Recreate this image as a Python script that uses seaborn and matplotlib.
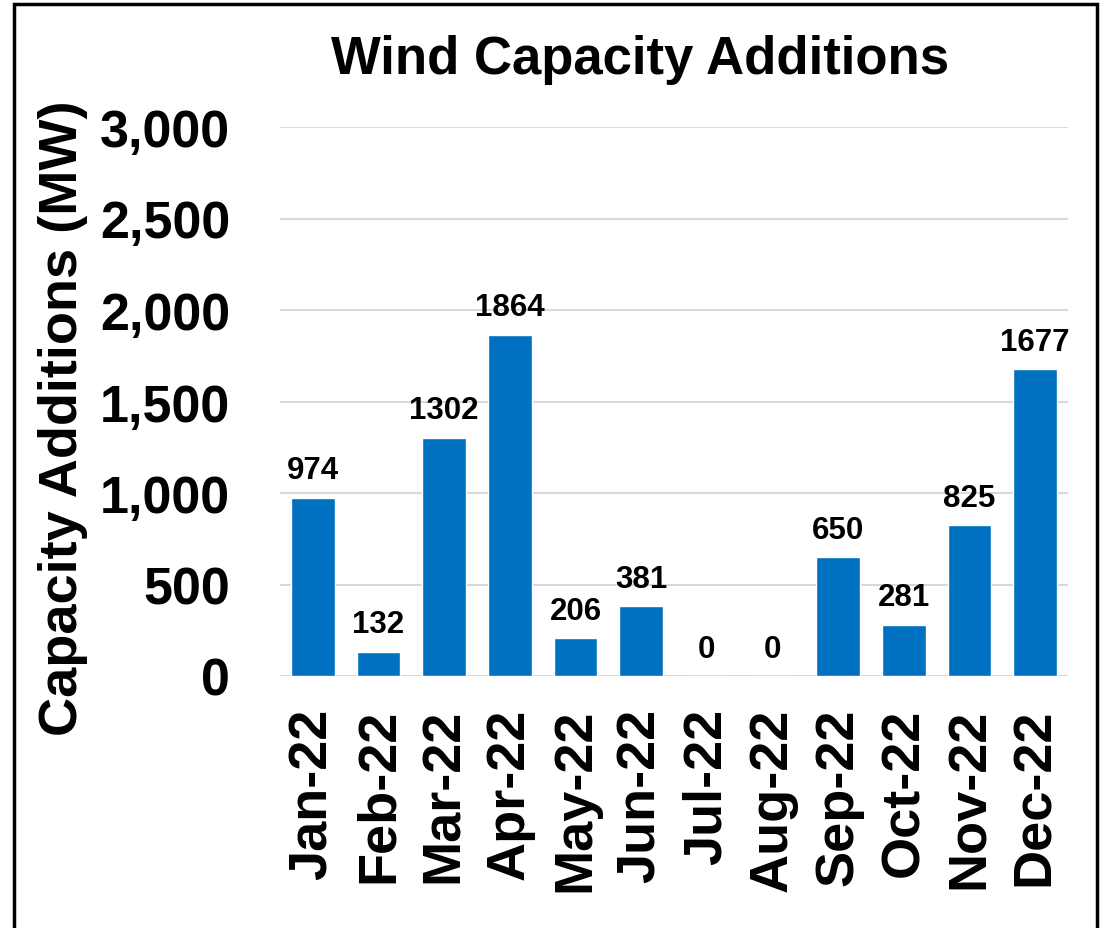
import numpy as np
import pandas as pd
import matplotlib
matplotlib.use('Agg')
import matplotlib.pyplot as plt
import seaborn as sns
from matplotlib.patches import Rectangle
from matplotlib.ticker import FuncFormatter

months = ['Jan-22', 'Feb-22', 'Mar-22', 'Apr-22', 'May-22', 'Jun-22',
          'Jul-22', 'Aug-22', 'Sep-22', 'Oct-22', 'Nov-22', 'Dec-22']
capacity = [974, 132, 1302, 1864, 206, 381, 0, 0, 650, 281, 825, 1677]
y_ticks = [0, 500, 1000, 1500, 2000, 2500, 3000]

sns.set_style('white')
plt.rcParams['font.family'] = ['Liberation Sans', 'DejaVu Sans']
plt.rcParams['font.weight'] = 'bold'
plt.rcParams['text.color'] = 'black'
plt.rcParams['xtick.color'] = 'black'
plt.rcParams['ytick.color'] = 'black'
plt.rcParams['axes.labelcolor'] = 'black'

df = pd.DataFrame({'month': months, 'mw': capacity})

fig = plt.figure(figsize=(11.12, 9.29), dpi=100)
ax = fig.add_axes([280 / 1112, 1 - 677 / 929, 788 / 1112, 549 / 929])

sns.barplot(data=df, x='month', y='mw', color='#0070C0', saturation=1,
            width=0.66, ax=ax, zorder=3)

ax.set_ylim(0, 3000)
ax.set_yticks(y_ticks)
ax.yaxis.set_major_formatter(FuncFormatter(lambda v, p: f'{int(v):,}'))
ax.grid(axis='y', color='#d9d9d9', linewidth=1.5, zorder=0)
ax.set_axisbelow(True)
for s in ax.spines.values():
    s.set_visible(False)
ax.axhline(0, color='#d9d9d9', linewidth=1.5, zorder=1)

ax.tick_params(axis='y', labelsize=37.5, length=0, pad=36)
ax.tick_params(axis='x', labelsize=39, length=0, pad=23, rotation=90)
for lab in ax.get_xticklabels() + ax.get_yticklabels():
    lab.set_fontweight('bold')

ax.set_xlabel('')
ax.set_ylabel('Capacity Additions (MW)', fontsize=39, fontweight='bold')
ax.yaxis.set_label_coords((88 - 280) / 788, (677 - 418) / 549)
fig.text(640 / 1112, 1 - 60 / 929, 'Wind Capacity Additions', fontsize=38,
         fontweight='bold', ha='center', va='center')

for i, v in enumerate(capacity):
    ax.annotate(str(v), (i, v), xytext=(0, 9), textcoords='offset points',
                ha='center', va='bottom', fontsize=22.5, fontweight='bold')

fig.patches.append(Rectangle((14 / 1112, -0.05), (1097 - 14) / 1112, 1.05 - 5 / 929,
                             transform=fig.transFigure, fill=False,
                             edgecolor='black', linewidth=2.5))

fig.savefig('out.png', dpi=100)
